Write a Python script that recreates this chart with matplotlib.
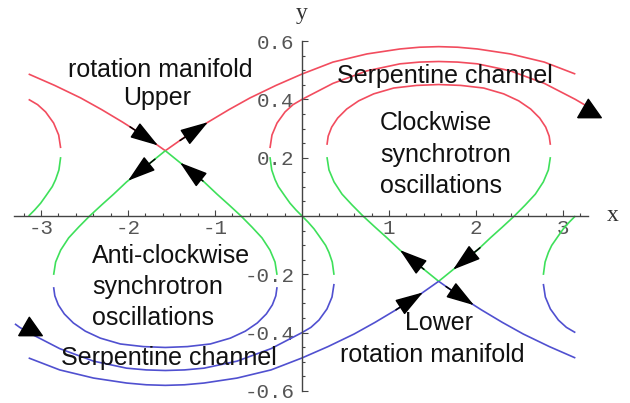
import numpy as np
import matplotlib
matplotlib.use("Agg")
import matplotlib.pyplot as plt
from matplotlib.ticker import FixedLocator, FuncFormatter

plt.rcParams['axes.unicode_minus'] = False

# ---------------- data (axis units) ----------------
# red (upper) pieces
red_sep_left_x = [-3.142, -2.843, -2.544, -2.303, -2.062, -1.809, -1.571]
red_sep_left_y = [0.487, 0.448, 0.405, 0.365, 0.322, 0.274, 0.224]
red_sep_right_x = [-1.571, -1.333, -1.080, -0.839, -0.598, -0.299, 0.0, 0.356, 0.747, 1.126,
                   1.35, 1.571, 1.79, 2.016, 2.395, 2.785, 3.142]
red_sep_right_y = [0.224, 0.274, 0.322, 0.365, 0.405, 0.448, 0.487, 0.528, 0.556, 0.573,
                   0.579, 0.581, 0.579, 0.573, 0.556, 0.528, 0.487]
red_channel_x = [-0.368, -0.345, -0.287, -0.195, -0.103, 0.0, 0.356, 0.747, 1.126, 1.35, 1.571,
                 1.79, 2.016, 2.395, 2.785, 3.142, 3.245, 3.30]
red_channel_y = [0.233, 0.278, 0.319, 0.357, 0.382, 0.400, 0.455, 0.498, 0.522, 0.528, 0.530,
                 0.528, 0.522, 0.498, 0.455, 0.400, 0.382, 0.370]
red_loop_x = [0.287, 0.301, 0.341, 0.410, 0.514, 0.651, 0.824, 1.054, 1.318, 1.571, 1.824,
              2.088, 2.318, 2.491, 2.628, 2.732, 2.801, 2.841, 2.855]
red_loop_y = [0.244, 0.274, 0.305, 0.336, 0.367, 0.395, 0.419, 0.439, 0.448, 0.451, 0.448,
              0.439, 0.419, 0.395, 0.367, 0.336, 0.305, 0.274, 0.244]
red_edge_x = [-3.142, -3.039, -2.947, -2.855, -2.797, -2.774]
red_edge_y = [0.400, 0.382, 0.357, 0.319, 0.278, 0.233]

# green (middle) pieces
green_a_x = [-1.571, -1.786, -2.016, -2.165, -2.303, -2.441, -2.567, -2.682, -2.774, -2.832, -2.855]
green_a_y = [0.224, 0.172, 0.117, 0.075, 0.038, 0.0, -0.038, -0.075, -0.117, -0.158, -0.202]
green_b_x = [-1.571, -1.356, -1.126, -0.977, -0.839, -0.701, -0.575, -0.460, -0.368, -0.310, -0.287]
green_b_y = [0.224, 0.172, 0.117, 0.075, 0.038, 0.0, -0.038, -0.075, -0.117, -0.158, -0.202]
green_s_x = [-0.368, -0.348, -0.310, -0.272, -0.200, -0.138, -0.070, 0.0, 0.070, 0.138, 0.200,
             0.272, 0.310, 0.348, 0.368]
green_s_y = [0.202, 0.158, 0.125, 0.101, 0.070, 0.044, 0.021, 0.0, -0.021, -0.044, -0.070,
             -0.101, -0.125, -0.158, -0.202]
green_c_x = [0.287, 0.310, 0.368, 0.460, 0.575, 0.701, 0.839, 0.977, 1.126, 1.356, 1.571]
green_c_y = [0.202, 0.158, 0.117, 0.075, 0.038, 0.0, -0.038, -0.075, -0.117, -0.172, -0.224]
green_d_x = [2.855, 2.832, 2.774, 2.682, 2.567, 2.441, 2.303, 2.165, 2.016, 1.786, 1.571]
green_d_y = [0.202, 0.158, 0.117, 0.075, 0.038, 0.0, -0.038, -0.075, -0.117, -0.172, -0.224]
green_l_x = [-2.774, -2.794, -2.832, -2.870, -2.942, -3.004, -3.072, -3.142]
green_l_y = [0.202, 0.158, 0.125, 0.101, 0.070, 0.044, 0.021, 0.0]
green_r_x = [2.774, 2.794, 2.832, 2.870, 2.942, 3.004, 3.072, 3.142]
green_r_y = [-0.202, -0.158, -0.125, -0.101, -0.070, -0.044, -0.021, 0.0]

# blue (lower) pieces
blue_loop_x = [-0.287, -0.301, -0.341, -0.410, -0.514, -0.651, -0.824, -1.054, -1.318, -1.571,
               -1.824, -2.088, -2.318, -2.491, -2.628, -2.732, -2.801, -2.841, -2.855]
blue_loop_y = [-0.244, -0.274, -0.305, -0.336, -0.367, -0.395, -0.419, -0.439, -0.448, -0.451,
               -0.448, -0.439, -0.419, -0.395, -0.367, -0.336, -0.305, -0.274, -0.244]
blue_edge_x = [3.142, 3.039, 2.947, 2.855, 2.797, 2.774]
blue_edge_y = [-0.400, -0.382, -0.357, -0.319, -0.278, -0.233]
blue_sep_right_x = [1.571, 1.809, 2.062, 2.303, 2.544, 2.843, 3.142]
blue_sep_right_y = [-0.224, -0.274, -0.322, -0.365, -0.405, -0.448, -0.487]
blue_sep_left_x = [1.571, 1.333, 1.080, 0.839, 0.598, 0.299, 0.0, -0.356, -0.747, -1.126,
                   -1.35, -1.571, -1.79, -2.016, -2.395, -2.785, -3.142]
blue_sep_left_y = [-0.224, -0.274, -0.322, -0.365, -0.405, -0.448, -0.487, -0.528, -0.556, -0.573,
                   -0.579, -0.581, -0.579, -0.573, -0.556, -0.528, -0.487]
blue_channel_x = [0.368, 0.345, 0.287, 0.195, 0.103, 0.0, -0.356, -0.747, -1.126, -1.35, -1.571,
                  -1.79, -2.016, -2.395, -2.785, -3.142, -3.245, -3.30]
blue_channel_y = [-0.233, -0.278, -0.319, -0.357, -0.382, -0.400, -0.455, -0.498, -0.522, -0.528,
                  -0.530, -0.528, -0.522, -0.498, -0.455, -0.400, -0.382, -0.370]

# flow arrows near the two saddles (tail -> tip)
arrow_tail_x = [-1.977, -1.402, -1.690, -1.138, 1.402, 2.046, 1.080, 1.655]
arrow_tail_y = [0.306, 0.259, 0.195, 0.120, -0.183, -0.109, -0.322, -0.242]
arrow_tip_x = [-1.655, -1.080, -2.000, -1.402, 1.126, 1.736, 1.391, 1.977]
arrow_tip_y = [0.242, 0.322, 0.121, 0.183, -0.117, -0.184, -0.262, -0.306]
# end triangles of the serpentine channels
end_mark_x = [3.300, -3.126]
end_mark_y = [0.372, -0.379]

x_major = [-3, -2, -1, 1, 2, 3]
y_major = [-0.6, -0.4, -0.2, 0.2, 0.4, 0.6]

RED = '#f24c5e'
GREEN = '#3ee05a'
BLUE = '#5050d0'

fig = plt.figure(figsize=(6.3, 4.03), dpi=100)
ax = fig.add_axes([0, 0, 1, 1])
ax.set_xlim(-302 / 87, 328 / 87)
ax.set_ylim(-187 / 291.5, 216 / 291.5)

lw = 1.2
for xs, ys in [(red_sep_left_x, red_sep_left_y), (red_sep_right_x, red_sep_right_y),
               (red_channel_x, red_channel_y), (red_loop_x, red_loop_y),
               (red_edge_x, red_edge_y)]:
    ax.plot(xs, ys, color=RED, lw=lw, solid_capstyle='butt', zorder=2)
for xs, ys in [(green_a_x, green_a_y), (green_b_x, green_b_y), (green_s_x, green_s_y),
               (green_c_x, green_c_y), (green_d_x, green_d_y), (green_l_x, green_l_y),
               (green_r_x, green_r_y)]:
    ax.plot(xs, ys, color=GREEN, lw=lw, solid_capstyle='butt', zorder=2)
for xs, ys in [(blue_loop_x, blue_loop_y), (blue_edge_x, blue_edge_y),
               (blue_sep_right_x, blue_sep_right_y), (blue_sep_left_x, blue_sep_left_y),
               (blue_channel_x, blue_channel_y)]:
    ax.plot(xs, ys, color=BLUE, lw=lw, solid_capstyle='butt', zorder=2)

for tx, ty, hx, hy in zip(arrow_tail_x, arrow_tail_y, arrow_tip_x, arrow_tip_y):
    ax.annotate('', xy=(hx, hy), xytext=(tx, ty),
                arrowprops=dict(arrowstyle='-|>,head_length=1.75,head_width=0.55',
                                mutation_scale=10, color='black', lw=1.1,
                                shrinkA=0, shrinkB=0), zorder=4)

tri = [(-1, -0.78), (-0.1, 0.78), (1, -0.78), (-1, -0.78)]
ax.plot(end_mark_x, end_mark_y, linestyle='none', marker=tri, ms=17, color='black', zorder=4)

# axes in the Mathematica style
for s in ['top', 'right']:
    ax.spines[s].set_visible(False)
ax.spines['left'].set_position(('data', 0))
ax.spines['bottom'].set_position(('data', 0))
ax.spines['left'].set_bounds(-0.6, 0.6)
ax.spines['bottom'].set_bounds(-3.31, 3.29)
for s in ['left', 'bottom']:
    ax.spines[s].set_color('#444444')
    ax.spines[s].set_linewidth(1.0)
    ax.spines[s].set_zorder(3)

ax.xaxis.set_major_locator(FixedLocator(x_major))
ax.yaxis.set_major_locator(FixedLocator(y_major))
ax.xaxis.set_minor_locator(FixedLocator([v for v in np.round(np.arange(-3.2, 3.21, 0.2), 2) if abs(v) > 1e-9]))
ax.yaxis.set_minor_locator(FixedLocator([v for v in np.round(np.arange(-0.6, 0.601, 0.05), 2) if abs(v) > 1e-9]))
ax.xaxis.set_major_formatter(FuncFormatter(lambda v, p: f"{int(round(v))}"))
ax.yaxis.set_major_formatter(FuncFormatter(lambda v, p: f"{v:.1f}"))
ax.tick_params(which='both', direction='in', color='#444444', width=0.8)
ax.tick_params(which='major', length=4.0)
ax.tick_params(which='minor', length=2.2)
ax.tick_params(axis='x', which='major', pad=2.5)
ax.tick_params(axis='y', which='major', pad=5.5)
for lab in ax.get_xticklabels() + ax.get_yticklabels():
    lab.set_fontfamily('Liberation Mono')
    lab.set_fontsize(15)
    lab.set_color('#555555')

ax.text(3.575, -0.017, 'x', family='Liberation Serif', fontsize=17, color='#333333',
        ha='center', va='baseline')
ax.text(0.0, 0.676, 'y', family='Liberation Serif', fontsize=17, color='#333333',
        ha='center', va='baseline')

tk = dict(family='Liberation Sans', fontsize=18, color='#111111', va='baseline', zorder=5)
ax.text(-1.632, 0.477, 'rotation manifold', ha='center', **tk)
ax.text(-1.667, 0.381, 'Upper', ha='center', **tk)
ax.text(1.644, 0.456, 'Serpentine channel', ha='center', **tk)
ax.text(0.897, 0.295, 'Clockwise', ha='left', **tk)
ax.text(0.897, 0.186, 'synchrotron', ha='left', **tk)
ax.text(0.897, 0.079, 'oscillations', ha='left', **tk)
ax.text(-2.414, -0.161, 'Anti-clockwise', ha='left', **tk)
ax.text(-2.414, -0.268, 'synchrotron', ha='left', **tk)
ax.text(-2.414, -0.374, 'oscillations', ha='left', **tk)
ax.text(-1.529, -0.511, 'Serpentine channel', ha='center', **tk)
ax.text(1.575, -0.391, 'Lower', ha='center', **tk)
ax.text(1.494, -0.501, 'rotation manifold', ha='center', **tk)

fig.savefig('out.png', dpi=100, facecolor='white')
